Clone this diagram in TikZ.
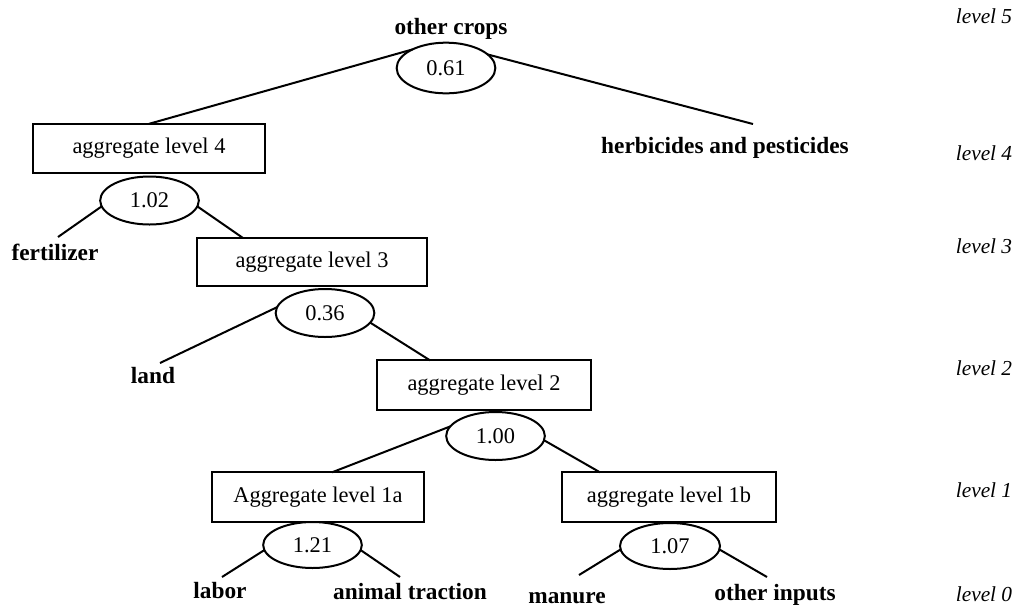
\documentclass[tikz,border=0pt]{standalone}
\usepackage{fontspec}
\setmainfont{Liberation Serif}
\usetikzlibrary{shapes.geometric,calc}
\begin{document}
\begin{tikzpicture}[x=0.75pt,y=-0.75pt,
  every node/.style={inner sep=0pt, outer sep=0pt},
  agg/.style={draw, line width=1.6pt, rectangle, minimum height=37pt, font=\fontsize{16.8}{19}\selectfont},
  est/.style={draw, line width=1.5pt, ellipse, minimum width=74pt, minimum height=36pt, font=\fontsize{16.8}{19}\selectfont},
  lab/.style={font=\fontsize{17.5}{20}\selectfont\bfseries, anchor=base},
  lvl/.style={font=\fontsize{16}{19}\selectfont\itshape},
  conn/.style={line width=1.5pt}]
\useasboundingbox (0,0) rectangle (1018,608);

% level labels
\node[lvl] (l5) at (984,16) {level 5};
\node[lvl] (l4) at (984,153) {level 4};
\node[lvl] (l3) at (984,246) {level 3};
\node[lvl] (l2) at (984,368) {level 2};
\node[lvl] (l1) at (984,490) {level 1};
\node[lvl] (l0) at (984,594) {level 0};

% level 5
\node[lab] (oc) at (451,34) {other crops};
\node[est, minimum height=38pt] (e5) at (446,68) {0.61};

% level 4
\node[agg, minimum width=174pt] (b4) at (149,148.5) {aggregate level 4};
\node[lab] (hp) at (725,153) {herbicides and pesticides};
\coordinate (hpTop) at (753,124);
\node[est] (e4) at (149.5,200.5) {1.02};
\node[lab] (fert) at (55,260) {fertilizer};
\coordinate (fertTop) at (58,237);

% level 3
\node[agg, minimum width=172.5pt, minimum height=36pt] (b3) at (312,262) {aggregate level 3};
\node[est] (e3) at (325,313) {0.36};
\node[lab] (land) at (153,383) {land};
\coordinate (landTop) at (160,363);

% level 2
\node[agg, minimum width=160.5pt] (b2) at (484,385) {aggregate level 2};
\node[est] (e2) at (495.5,436) {1.00};

% level 1
\node[agg, minimum width=159pt] (b1a) at (318,497) {Aggregate level 1a};
\node[agg, minimum width=160.5pt] (b1b) at (669,497) {aggregate level 1b};
\node[est, minimum height=34.5pt] (e1a) at (312.5,545) {1.21};
\node[est, minimum height=34.5pt, minimum width=75pt] (e1b) at (670,546) {1.07};

% level 0
\node[lab] (labor) at (220,598) {labor};
\node[lab] (at) at (410,599) {animal traction};
\node[lab] (man) at (567,603) {manure};
\node[lab] (oi) at (775,600) {other inputs};
\coordinate (laborTop) at (222,577);
\coordinate (atTop) at (400,577);
\coordinate (manTop) at (579,575);
\coordinate (oiTop) at (767,577);

% connectors
\draw[conn] (e5.151) -- (b4.north);
\draw[conn] (e5.18) -- (hpTop);
\draw[conn] (e4.187) -- (fertTop);
\draw[conn] (e4.353) -- ($(b3.north west)+(46,0)$);
\draw[conn] (e3.173) -- (landTop);
\draw[conn] (e3.348) -- ($(b2.north west)+(53,0)$);
\draw[conn] (e2.168) -- ($(b1a.north)+(14,0)$);
\draw[conn] (e2.355) -- ($(b1b.north west)+(38,0)$);
\draw[conn] (e1a.186) -- (laborTop);
\draw[conn] (e1a.354) -- (atTop);
\draw[conn] (e1b.184) -- (manTop);
\draw[conn] (e1b.356) -- (oiTop);
\end{tikzpicture}
\end{document}
